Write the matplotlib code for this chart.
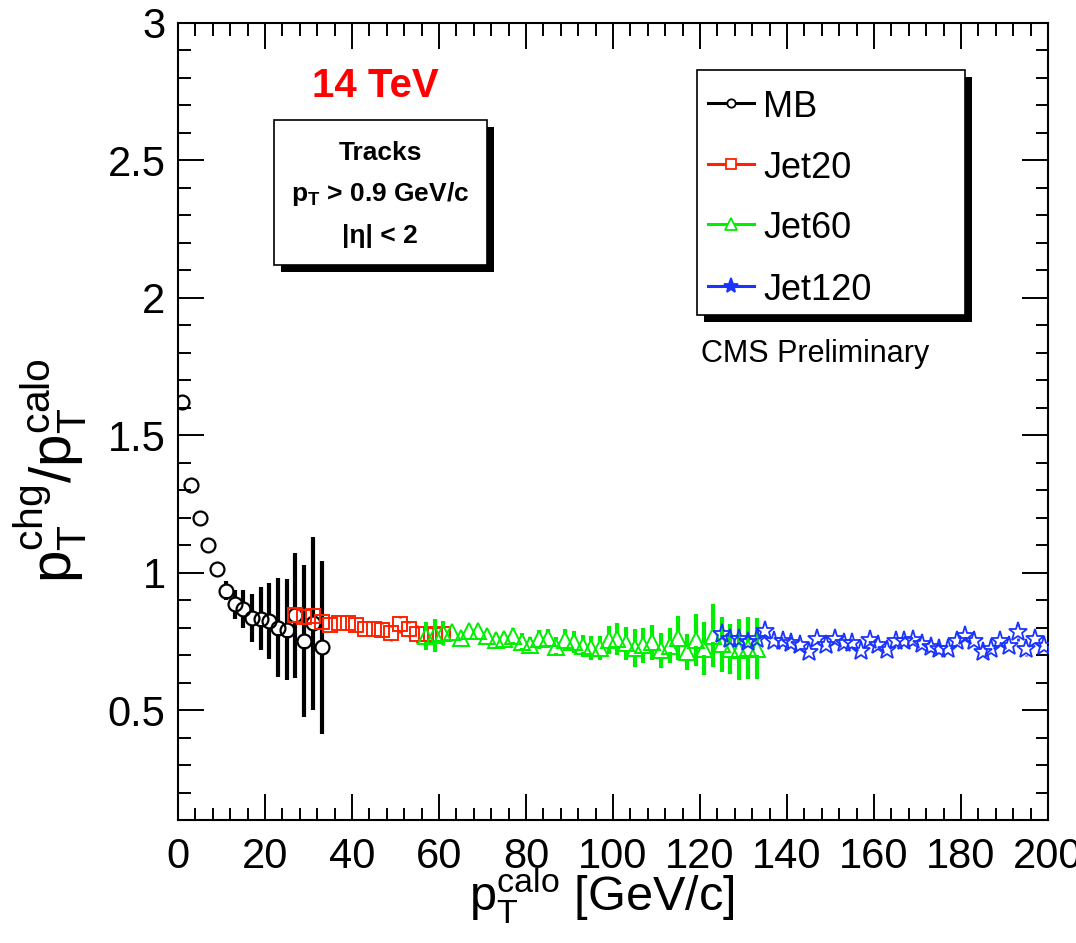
import matplotlib
matplotlib.use('Agg')
import matplotlib.pyplot as plt
import numpy as np
from matplotlib.patches import Rectangle
from matplotlib.lines import Line2D

plt.rcParams['font.family'] = ['Liberation Sans', 'DejaVu Sans']
plt.rcParams['mathtext.fontset'] = 'custom'
plt.rcParams['mathtext.rm'] = 'Liberation Sans'
plt.rcParams['mathtext.it'] = 'Liberation Sans'
plt.rcParams['mathtext.bf'] = 'Liberation Sans:bold'

# ---------------- data ----------------
mb_x = [1, 3, 5, 7, 9, 11, 13, 15, 17, 19, 21, 23, 25, 27, 29, 31, 33]
mb_y = [1.62, 1.32, 1.20, 1.10, 1.013, 0.935, 0.885, 0.868, 0.835, 0.832,
        0.823, 0.80, 0.792, 0.845, 0.752, 0.815, 0.728]
mb_e = [0.005, 0.005, 0.006, 0.01, 0.027, 0.033, 0.052, 0.068, 0.089, 0.114,
        0.138, 0.18, 0.184, 0.227, 0.276, 0.315, 0.314]

j20_x = [27, 29, 31, 33, 35, 37, 39, 41, 43, 45, 47, 49, 51, 53, 55, 57, 59, 61]
j20_y = [0.845, 0.837, 0.843, 0.82, 0.81, 0.815, 0.815, 0.81, 0.795, 0.795,
         0.79, 0.78, 0.812, 0.795, 0.776, 0.776, 0.773, 0.775]
j20_e = [0.012, 0.012, 0.015, 0.015, 0.015, 0.015, 0.015, 0.018, 0.02, 0.02,
         0.025, 0.03, 0.03, 0.03, 0.032, 0.032, 0.035, 0.04]

j60_x = [57, 59, 61, 63, 65, 67, 69, 71, 73, 75, 77, 79, 81, 83, 85, 87, 89, 91, 93,
         95, 97, 99, 101, 103, 105, 107, 109, 111, 113, 115, 117, 119, 121, 123,
         125, 127, 129, 131, 133]
j60_y = [0.770, 0.773, 0.780, 0.785, 0.764, 0.788, 0.786, 0.770, 0.754, 0.758,
         0.770, 0.749, 0.735, 0.757, 0.761, 0.731, 0.755, 0.746, 0.734,
         0.726, 0.726, 0.755, 0.758, 0.744, 0.726, 0.735, 0.746, 0.717, 0.734,
         0.762, 0.711, 0.756, 0.724, 0.771, 0.740, 0.722, 0.720, 0.726, 0.724]
j60_e = [0.05, 0.06, 0.045, 0.02, 0.02, 0.02, 0.02, 0.02, 0.025, 0.025,
         0.03, 0.03, 0.03, 0.035, 0.035, 0.035, 0.04, 0.04, 0.04,
         0.044, 0.045, 0.052, 0.058, 0.06, 0.068, 0.064, 0.064, 0.065, 0.064,
         0.08, 0.067, 0.094, 0.096, 0.115, 0.10, 0.09, 0.112, 0.112, 0.112]

j120_x = [125, 127, 129, 131, 133, 135, 137, 139, 141, 143, 145, 147, 149, 151,
          153, 155, 157, 159, 161, 163, 165, 167, 169, 171, 173, 175, 177, 179,
          181, 183, 185, 187, 189, 191, 193, 195, 197, 199]
j120_y = [0.776, 0.757, 0.757, 0.749, 0.758, 0.788, 0.750, 0.752, 0.744, 0.735,
          0.711, 0.757, 0.738, 0.757, 0.745, 0.743, 0.716, 0.756, 0.735, 0.720,
          0.750, 0.750, 0.754, 0.740, 0.728, 0.722, 0.722, 0.752, 0.768, 0.752,
          0.712, 0.724, 0.752, 0.734, 0.783, 0.722, 0.758, 0.734]
j120_e = [0.012, 0.012, 0.012, 0.012, 0.012, 0.012, 0.012, 0.012, 0.012, 0.012,
          0.012, 0.012, 0.012, 0.012, 0.012, 0.012, 0.012, 0.012, 0.014, 0.014,
          0.014, 0.014, 0.014, 0.014, 0.015, 0.015, 0.015, 0.015, 0.016, 0.016,
          0.018, 0.018, 0.02, 0.02, 0.03, 0.026, 0.022, 0.022]

series_names = ['MB', 'Jet20', 'Jet60', 'Jet120']
x_ticks = [0, 20, 40, 60, 80, 100, 120, 140, 160, 180, 200]
y_ticks = [0.5, 1, 1.5, 2, 2.5, 3]
y_tick_labels = ['0.5', '1', '1.5', '2', '2.5', '3']

# ---------------- figure ----------------
W, H = 1076, 943
fig = plt.figure(figsize=(W / 100, H / 100), dpi=100)


def fx(x):
    return x / W


def fy(y):
    return 1 - y / H


ax = fig.add_axes([fx(178), fy(820), (1048 - 178) / W, (820 - 23) / H])
ax.set_xlim(0, 200)
ax.set_ylim(0.1, 3.0)

RED = '#ff2200'
GREEN = '#00ee00'
BLUE = '#1a33ff'


def draw(x, y, e, color, marker, ms, mew, gap, lw, z):
    x = np.asarray(x, float)
    y = np.asarray(y, float)
    e = np.asarray(e, float)
    m = e > gap
    ax.vlines(x[m], (y - e)[m], (y - gap)[m], colors=color, lw=lw, zorder=z)
    ax.vlines(x[m], (y + gap)[m], (y + e)[m], colors=color, lw=lw, zorder=z)
    ax.plot(x, y, ls='none', marker=marker, ms=ms, mfc='none', mec=color,
            mew=mew, zorder=z + 0.5)


draw(mb_x, mb_y, mb_e, 'black', 'o', 10, 1.6, 0.024, 3.0, 3)
draw(j20_x, j20_y, j20_e, RED, 's', 10.5, 1.4, 0.022, 2.0, 4)
draw(j60_x, j60_y, j60_e, GREEN, '^', 11, 1.4, 0.024, 3.0, 5)
draw(j120_x, j120_y, j120_e, BLUE, '*', 14, 1.3, 0.022, 2.0, 6)

# axes styling (ROOT-like)
for s in ax.spines.values():
    s.set_linewidth(1.5)
ax.set_xticks(x_ticks)
ax.set_yticks(y_ticks)
ax.set_yticklabels(y_tick_labels)
ax.xaxis.set_minor_locator(matplotlib.ticker.MultipleLocator(4))
ax.yaxis.set_minor_locator(matplotlib.ticker.MultipleLocator(0.1))
ax.tick_params(which='both', direction='in', top=True, right=True, width=1.4)
ax.tick_params(which='major', length=19)
ax.tick_params(which='minor', length=9)
ax.tick_params(axis='both', which='major', labelsize=30)
ax.tick_params(axis='x', pad=12)
ax.tick_params(axis='y', pad=9)

ax.set_xlabel(r'p$_{\mathrm{T}}^{\mathrm{calo}}$ [GeV/c]', fontsize=35,
              va='baseline', ha='center')
ax.xaxis.set_label_coords((602 - 178) / 870, (820 - 911) / 797)
ax.set_ylabel(r'p$_{\mathrm{T}}^{\mathrm{chg}}$/p$_{\mathrm{T}}^{\mathrm{calo}}$',
              fontsize=42, va='baseline', ha='center')
ax.yaxis.set_label_coords((72 - 178) / 870, (820 - 471) / 797)

# 14 TeV
fig.text(fx(375), fy(97), '14 TeV', color='#ff0000', fontsize=29,
         fontweight='bold', ha='center', va='baseline')


# boxes with ROOT-style shadow
def box(x0, y0, x1, y1, off):
    fig.add_artist(Rectangle((fx(x0 + off), fy(y1 + off)), (x1 - x0) / W,
                             (y1 - y0) / H, transform=fig.transFigure,
                             facecolor='black', edgecolor='black', lw=0,
                             zorder=10))
    fig.add_artist(Rectangle((fx(x0), fy(y1)), (x1 - x0) / W, (y1 - y0) / H,
                             transform=fig.transFigure, facecolor='white',
                             edgecolor='black', lw=1.2, zorder=11))


box(274, 120, 487, 265, 7)
fig.text(fx(380), fy(160), 'Tracks', fontsize=19, fontweight='bold',
         ha='center', va='baseline', zorder=12)
fig.text(fx(380), fy(201), r'p$_{\mathbf{T}}$ > 0.9 GeV/c', fontsize=19,
         fontweight='bold', ha='center', va='baseline', zorder=12)
fig.text(fx(380), fy(243), '|η| < 2', fontsize=19, fontweight='bold',
         ha='center', va='baseline', zorder=12)

# legend with shadow
box(697, 70, 965, 315, 7)
leg_styles = [('black', 'o', 6), (RED, 's', 7), (GREEN, '^', 8), (BLUE, '*', 11)]
leg_base = [116.7, 178.3, 238.3, 300]
for name, (c, mk, ms), yb in zip(series_names, leg_styles, leg_base):
    yc = yb - 14
    fig.add_artist(Line2D([fx(708), fx(754)], [fy(yc), fy(yc)],
                          transform=fig.transFigure, color=c, lw=2.2,
                          zorder=12))
    fig.add_artist(Line2D([fx(731)], [fy(yc)], transform=fig.transFigure,
                          ls='none', marker=mk, ms=ms,
                          mfc='white' if mk != '*' else c,
                          mec=c, mew=1.3, zorder=13))
    fig.text(fx(763), fy(yb), name, fontsize=26, ha='left', va='baseline',
             zorder=13)

fig.text(fx(701), fy(361.7), 'CMS Preliminary', fontsize=22, ha='left',
         va='baseline')

fig.savefig('out.png', dpi=100)
